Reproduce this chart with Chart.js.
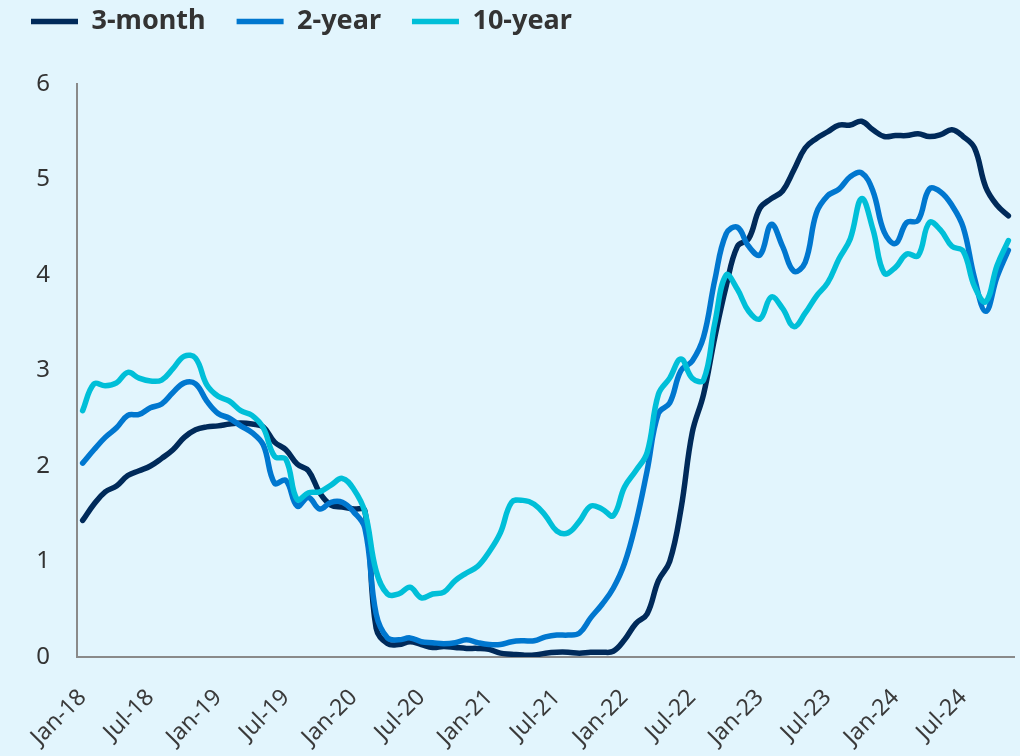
<!DOCTYPE html>
<html>
<head>
<meta charset="utf-8">
<script src="https://cdn.jsdelivr.net/npm/chart.js@4.4.1/dist/chart.umd.min.js"></script>
<style>
  html, body { margin: 0; padding: 0; background: #e2f5fd; }
  #wrap { width: 1020px; height: 756px; position: relative; }
</style>
</head>
<body>
<div id="wrap"><canvas id="yields"></canvas></div>
<script>
// monthly average yields, Jan-18 .. Nov-24 (%)
const years = ['18', '19', '20', '21', '22', '23', '24'];
const monthNames = ['Jan', 'Feb', 'Mar', 'Apr', 'May', 'Jun', 'Jul', 'Aug', 'Sep', 'Oct', 'Nov', 'Dec'];
const tickLabels = ['Jan-18', 'Jul-18', 'Jan-19', 'Jul-19', 'Jan-20', 'Jul-20', 'Jan-21',
  'Jul-21', 'Jan-22', 'Jul-22', 'Jan-23', 'Jul-23', 'Jan-24', 'Jul-24'];

const threeMonth = [
  1.43, 1.60, 1.73, 1.79, 1.90, 1.95, 2.00, 2.08, 2.17, 2.30, 2.38, 2.41,
  2.42, 2.44, 2.45, 2.44, 2.41, 2.25, 2.17, 2.02, 1.95, 1.72, 1.59, 1.57,
  1.55, 1.53, 0.30, 0.14, 0.13, 0.16, 0.13, 0.10, 0.11, 0.10, 0.09, 0.09,
  0.08, 0.04, 0.03, 0.02, 0.02, 0.04, 0.05, 0.05, 0.04, 0.05, 0.05, 0.06,
  0.18, 0.35, 0.45, 0.80, 1.00, 1.55, 2.35, 2.75, 3.35, 3.88, 4.30, 4.38,
  4.70, 4.80, 4.88, 5.10, 5.33, 5.43, 5.50, 5.57, 5.57, 5.61, 5.52, 5.45,
  5.46, 5.46, 5.48, 5.45, 5.47, 5.52, 5.45, 5.33, 4.92, 4.73, 4.62
];
const twoYear = [
  2.03, 2.17, 2.30, 2.40, 2.53, 2.54, 2.61, 2.65, 2.77, 2.87, 2.86, 2.68,
  2.55, 2.50, 2.42, 2.35, 2.22, 1.82, 1.85, 1.58, 1.67, 1.55, 1.62, 1.62,
  1.52, 1.35, 0.45, 0.20, 0.18, 0.20, 0.16, 0.15, 0.14, 0.15, 0.18, 0.15,
  0.13, 0.13, 0.16, 0.17, 0.17, 0.21, 0.23, 0.23, 0.25, 0.41, 0.55, 0.72,
  0.98, 1.40, 1.95, 2.55, 2.66, 3.00, 3.10, 3.35, 3.95, 4.43, 4.50, 4.30,
  4.21, 4.53, 4.30, 4.04, 4.13, 4.65, 4.83, 4.90, 5.03, 5.07, 4.88, 4.45,
  4.33, 4.55, 4.57, 4.90, 4.87, 4.73, 4.50, 3.97, 3.62, 3.98, 4.26
];
const tenYear = [
  2.58, 2.86, 2.84, 2.87, 2.98, 2.92, 2.89, 2.90, 3.02, 3.15, 3.13, 2.85,
  2.73, 2.68, 2.58, 2.53, 2.40, 2.10, 2.07, 1.65, 1.72, 1.73, 1.80, 1.87,
  1.76, 1.52, 0.90, 0.66, 0.66, 0.73, 0.62, 0.66, 0.68, 0.80, 0.88, 0.95,
  1.10, 1.30, 1.62, 1.64, 1.60, 1.48, 1.32, 1.30, 1.42, 1.58, 1.55, 1.48,
  1.78, 1.95, 2.14, 2.75, 2.92, 3.12, 2.92, 2.90, 3.50, 4.00, 3.85, 3.62,
  3.54, 3.77, 3.65, 3.46, 3.60, 3.78, 3.92, 4.17, 4.38, 4.80, 4.48, 4.02,
  4.08, 4.22, 4.20, 4.55, 4.47, 4.30, 4.25, 3.88, 3.72, 4.10, 4.36
];

const months = [];
years.forEach(y => monthNames.forEach(m => months.push(m + '-' + y)));
months.length = threeMonth.length;

function line(label, data, color, order) {
  return {
    label, data, order,
    borderColor: color,
    backgroundColor: color,
    borderWidth: 5.5,
    borderCapStyle: 'round',
    borderJoinStyle: 'round',
    pointRadius: 0,
    pointStyle: 'line',
    tension: 0.4
  };
}

new Chart(document.getElementById('yields'), {
  type: 'line',
  data: {
    labels: months,
    datasets: [
      line('3-month', threeMonth, '#002a5a', 2),
      line('2-year', twoYear, '#0077cf', 1),
      line('10-year', tenYear, '#00bfd8', 0)
    ]
  },
  options: {
    responsive: true,
    maintainAspectRatio: false,
    animation: false,
    layout: { padding: { top: -23, right: 6, left: 0, bottom: 0 } },
    plugins: {
      legend: {
        position: 'top',
        align: 'start',
        labels: {
          usePointStyle: true,
          pointStyleWidth: 47,
          padding: 31,
          color: '#333',
          font: { family: 'Noto Sans', size: 27, weight: 'bold' },
          sort: (a, b) => a.datasetIndex - b.datasetIndex
        }
      },
      // empty spacer between legend and plot
      title: {
        display: true,
        text: '',
        weight: 500,
        font: { size: 10 },
        padding: { top: 0, bottom: 27 }
      },
      tooltip: { enabled: false }
    },
    scales: {
      x: {
        offset: true,
        grid: { display: false, drawTicks: false },
        border: { color: '#8a8a8a', width: 2 },
        ticks: {
          autoSkip: false,
          maxRotation: 45,
          minRotation: 45,
          padding: 27,
          color: '#3a3a3a',
          font: { family: 'Noto Sans', size: 23 },
          callback: (v, i) => tickLabels.includes(months[i]) ? months[i] : ''
        },
        afterFit: s => { s.height = 99; s.paddingLeft = 0; s.paddingRight = 0; }
      },
      y: {
        min: 0,
        max: 6,
        grid: { display: false, drawTicks: false },
        border: { color: '#8a8a8a', width: 2 },
        ticks: {
          stepSize: 1,
          padding: 27,
          color: '#333',
          font: { family: 'Noto Sans', size: 24 }
        },
        afterFit: s => { s.width = 77; }
      }
    }
  }
});
</script>
</body>
</html>
